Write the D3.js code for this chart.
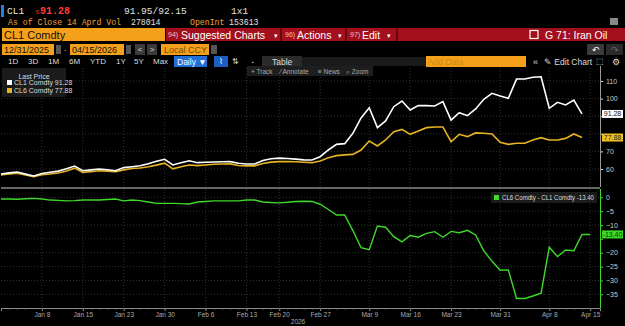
<!DOCTYPE html>
<html><head><meta charset="utf-8">
<script src="https://cdn.jsdelivr.net/npm/d3@7"></script>
<style>
html,body{margin:0;padding:0;background:#000;overflow:hidden}
svg{display:block}
</style></head><body>
<svg id="c" width="625" height="326"></svg>
<script>
// ---------------- DATA ----------------
const dates = ["Dec 31","Jan 2","Jan 5","Jan 6","Jan 7","Jan 8","Jan 9","Jan 12","Jan 13","Jan 14","Jan 15","Jan 16",
"Jan 20","Jan 21","Jan 22","Jan 23","Jan 26","Jan 27","Jan 28","Jan 29","Jan 30","Feb 2","Feb 3","Feb 4","Feb 5","Feb 6",
"Feb 9","Feb 10","Feb 11","Feb 12","Feb 13","Feb 17","Feb 18","Feb 19","Feb 20","Feb 23","Feb 24","Feb 25","Feb 26","Feb 27",
"Mar 2","Mar 3","Mar 4","Mar 5","Mar 6","Mar 9","Mar 10","Mar 11","Mar 12","Mar 13","Mar 16","Mar 17","Mar 18","Mar 19","Mar 20",
"Mar 23","Mar 24","Mar 25","Mar 26","Mar 27","Mar 30","Mar 31","Apr 1","Apr 2","Apr 3","Apr 6","Apr 7","Apr 8","Apr 9","Apr 10",
"Apr 13","Apr 14","Apr 15"];
const cl1 = [57.2,57.8,58.3,57.1,56.0,57.4,58.2,58.8,60.2,61.7,59.0,59.5,60.0,59.6,59.0,60.8,61.3,61.8,63.0,64.4,65.5,
62.3,63.6,64.7,63.6,63.8,64.0,64.1,64.2,63.3,62.8,62.8,64.8,65.8,66.2,66.0,65.6,65.2,65.1,67.0,70.8,74.0,74.4,80.3,89.0,
94.8,83.5,87.3,95.4,98.6,93.5,96.0,96.0,95.8,98.3,87.8,92.0,90.3,94.1,99.6,103.0,101.5,100.2,111.1,111.1,112.1,112.4,
94.5,97.9,96.4,99.2,91.28];
const cl6 = [56.6,57.2,57.6,56.6,55.6,56.8,57.2,57.7,58.9,60.5,58.0,58.5,59.0,58.8,58.4,59.5,60.3,60.6,61.3,62.2,63.3,
60.1,61.3,62.3,61.9,62.3,62.7,62.8,62.9,62.0,61.8,61.8,63.1,63.9,64.2,64.2,64.1,63.8,63.6,64.5,66.4,67.6,68.0,68.3,70.8,
75.9,73.1,76.5,81.2,82.5,79.7,81.6,83.5,83.9,83.9,75.5,79.7,78.4,80.5,80.3,79.9,75.2,74.0,74.6,74.6,76.5,77.8,
76.5,76.5,77.4,79.9,77.88];
const spread = [-0.6,-0.6,-0.7,-0.5,-0.4,-0.6,-1.0,-1.1,-1.3,-1.2,-1.0,-1.0,-1.0,-0.8,-0.6,-1.3,-1.0,-1.2,-1.7,-2.2,-2.2,
-2.2,-2.3,-2.4,-1.7,-1.5,-1.3,-1.3,-1.3,-1.3,-1.0,-1.0,-1.7,-1.9,-2.0,-1.8,-1.5,-1.4,-1.5,-2.5,-4.4,-6.4,-6.4,-12.0,-18.2,
-18.9,-10.4,-10.8,-14.2,-16.1,-13.8,-14.4,-13.0,-12.4,-14.4,-12.3,-12.8,-11.9,-13.6,-19.3,-23.1,-26.3,-26.2,-36.5,-36.5,
-35.6,-34.6,-18.0,-21.4,-19.0,-19.3,-13.4,-13.4];
const tickLabels = ["Jan 8","Jan 15","Jan 23","Jan 30","Feb 6","Feb 13","Feb 20","Feb 27","Mar 9","Mar 16","Mar 23","Mar 31","Apr 8","Apr 15"];
const upperTicks = [60,70,80,90,100,110];
const lowerTicks = [0,-5,-10,-15,-20,-25,-30,-35];
const seriesNames = ["CL1 Comdty","CL6 Comdty","CL6 Comdty - CL1 Comdty"];
const lastVals = ["91.28","77.88","-13.40"];

// ---------------- STYLE ----------------
const ORANGE="#f5a01a", RED="#a30f1c", WHITE="#ffffff", GOLD="#e6b422", GREEN="#3fd92b", GRID="#3c3c3c";
const SANS="'Liberation Sans', Arial, sans-serif", MONO="'Liberation Mono','DejaVu Sans Mono',monospace";
const svg = d3.select("#c");
svg.append("rect").attr("width",625).attr("height",326).attr("fill","#000");

function txt(x,y,s,o={}){
  return svg.append("text").attr("x",x).attr("y",y).text(s)
    .attr("font-family",o.f||SANS).attr("font-size",o.s||9).attr("fill",o.c||"#ddd")
    .attr("font-weight",o.w||"normal").attr("text-anchor",o.a||"start").attr("dominant-baseline","central");
}
function box(x,y,w,h,c){ return svg.append("rect").attr("x",x).attr("y",y).attr("width",w).attr("height",h).attr("fill",c); }

// ---------------- HEADER ----------------
box(1,5,3,12,"#2a7de1");
txt(7,11.5,"CL1",{f:MONO,s:9.5,c:"#e8e8e8"});
txt(35,11.5,"s",{f:MONO,s:8,c:"#e03030"});
txt(40,11.5,"91.28",{f:MONO,s:10,c:"#ff3b3b",w:"bold"});
txt(124,11.5,"91.95/92.15",{f:MONO,s:9.5,c:"#e0e0e0"});
txt(231,11.5,"1x1",{f:MONO,s:9.5,c:"#e0e0e0"});
txt(8,22.5,"As of Close 14 Aprd Vol",{f:MONO,s:8.2,c:"#f0a030"});
txt(131,22.5,"278014",{f:MONO,s:8.2,c:"#e0e0e0"});
txt(190,22.5,"OpenInt",{f:MONO,s:8.2,c:"#f0a030"});
txt(229,22.5,"153613",{f:MONO,s:8.2,c:"#e0e0e0"});
box(610,18,8,7,"#888");
// row 3
box(2,28,163,13,ORANGE);
txt(4,34.8,"CL1 Comdty",{s:11,c:"#111"});
box(166,28,459,13,RED);
box(280,28,2,13,"#6a0810"); box(345,28,2,13,"#6a0810"); box(396,28,2,13,"#6a0810");
txt(168,34.8,"94)",{s:7,c:"#f3c0c0"});
txt(181,34.8,"Suggested Charts",{s:10.5,c:"#fff"});
txt(274,35,"▾",{s:7,c:"#fff"});
txt(285,34.8,"96)",{s:7,c:"#f3c0c0"});
txt(297,34.8,"Actions",{s:10.5,c:"#fff"});
txt(338,35,"▾",{s:7,c:"#fff"});
txt(350,34.8,"97)",{s:7,c:"#f3c0c0"});
txt(362,34.8,"Edit",{s:10.5,c:"#fff"});
txt(387,35,"▾",{s:7,c:"#fff"});
svg.append("rect").attr("x",530).attr("y",30.5).attr("width",8).attr("height",8).attr("fill","none").attr("stroke","#fff").attr("stroke-width",1.2);
txt(545,34.8,"G 71: Iran Oil",{s:10.5,c:"#fff"});
// row 4
box(2,44,52,11,ORANGE); txt(4,49.8,"12/31/2025",{s:9,c:"#111"});
box(56,45,5,9,"#555");
txt(64,49.8,"-",{s:8,c:"#aaa"});
box(70,44,54,11,ORANGE); txt(72,49.8,"04/15/2026",{s:9,c:"#111"});
box(126,45,5,9,"#555");
box(135,44,10,11,"#3a3a3a"); txt(140,49.8,"<",{s:8,c:"#ddd",a:"middle"});
box(147,44,10,11,"#3a3a3a"); txt(152,49.8,">",{s:8,c:"#ddd",a:"middle"});
box(161,44,48,11,ORANGE); txt(164,49.8,"Local CCY",{s:9,c:"#7a4a00"});
box(211,45,6,9,"#555");
box(587,44,17,11,"#3a3a3a"); txt(595.5,49.8,"↶",{s:9,c:"#fff",a:"middle"});
box(606,44,17,11,"#2a2a2a"); txt(614.5,49.8,"↷",{s:9,c:"#666",a:"middle"});
// row 5
[["1D",8],["3D",28],["1M",48],["6M",69],["YTD",90],["1Y",116],["5Y",134],["Max",153]].forEach(d=>txt(d[1],61.5,d[0],{s:8,c:"#ddd"}));
box(174,56,33,11,"#1f6fd6"); txt(177,61.5,"Daily ▼",{s:8.5,c:"#fff"});
box(214,56,14,11,"#1c5fc0"); txt(221,61.5,"⌇",{s:8,c:"#fff",a:"middle"});
txt(235,61.5,"⇅",{s:8,c:"#ccc",a:"middle"});
txt(253,61.5,"▪",{s:5,c:"#ccc",a:"middle"});
box(262,56,40,11,"#2b2b2b"); txt(272,61.5,"Table",{s:8.5,c:"#ddd"});
box(302,57,124,9,"#1a1a1a");
box(426,56,100,11,ORANGE); txt(428,61.5,"Add Data",{s:8.5,c:"#d08a10"});
txt(533,61.5,"«",{s:9,c:"#ddd"});
txt(544,61.5,"✎ Edit Chart",{s:8.5,c:"#ddd"});
txt(600,61.5,"⬚",{s:8,c:"#ddd",a:"middle"});
txt(616,61.5,"⚙",{s:9,c:"#ddd",a:"middle"});

// ---------------- SCALES ----------------
const x = d3.scaleLinear().domain([0,73.2]).range([1,600]);
const yU = d3.scaleLinear().domain([60,110]).range([169,81]);
const yL = d3.scaleLinear().domain([0,-35]).range([197.3,294.3]);
const U = {top:68,bot:187}, L = {top:189,bot:308};
const tickIdx = tickLabels.map(l=>dates.indexOf(l));

const defs = svg.append("defs");
defs.append("clipPath").attr("id","cu").append("rect").attr("x",0).attr("y",U.top).attr("width",600).attr("height",U.bot-U.top);
defs.append("clipPath").attr("id","cl").append("rect").attr("x",0).attr("y",L.top).attr("width",600).attr("height",L.bot-L.top);

// grid
const g = svg.append("g").attr("stroke",GRID).attr("stroke-width",0.8).attr("stroke-dasharray","1,2");
tickIdx.forEach(i=>{
  g.append("line").attr("x1",x(i)).attr("x2",x(i)).attr("y1",U.top).attr("y2",U.bot);
  g.append("line").attr("x1",x(i)).attr("x2",x(i)).attr("y1",L.top).attr("y2",L.bot);
});
upperTicks.forEach(v=>g.append("line").attr("x1",1).attr("x2",600).attr("y1",yU(v)).attr("y2",yU(v)));
lowerTicks.forEach(v=>g.append("line").attr("x1",1).attr("x2",600).attr("y1",yL(v)).attr("y2",yL(v)));

// separator
svg.append("line").attr("x1",1).attr("x2",600).attr("y1",188).attr("y2",188).attr("stroke","#8a8a8a").attr("stroke-width",1.6);

// lines
const lineU = d3.line().x((d,i)=>x(i)).y(d=>yU(d));
const lineL = d3.line().x((d,i)=>x(i)).y(d=>yL(d));
svg.append("path").datum(cl6).attr("d",lineU).attr("fill","none").attr("stroke",GOLD).attr("stroke-width",1.6).attr("clip-path","url(#cu)");
svg.append("path").datum(cl1).attr("d",lineU).attr("fill","none").attr("stroke",WHITE).attr("stroke-width",1.6).attr("clip-path","url(#cu)");
svg.append("path").datum(spread).attr("d",lineL).attr("fill","none").attr("stroke",GREEN).attr("stroke-width",1.4).attr("clip-path","url(#cl)");

// tag positions (labels under them are hidden as in the reference)
const tagU1 = yU(cl1[cl1.length-1]), tagU2 = yU(cl6[cl6.length-1]), tagL = yL(spread[spread.length-1]);
const hidden = (y)=> [tagU1,tagU2,tagL].some(t=>Math.abs(t-y)<8);

// right axes
const axU = svg.append("g").attr("transform","translate(600,0)")
  .call(d3.axisRight(yU).tickValues(upperTicks).tickSize(3).tickPadding(3));
axU.select(".domain").remove();
axU.selectAll("line").attr("stroke","#ddd");
axU.selectAll("text").attr("fill","#ccc").attr("font-size",7).attr("font-family",SANS)
  .style("display",d=>hidden(yU(d))?"none":null);
svg.append("line").attr("x1",600.5).attr("x2",600.5).attr("y1",U.top-2).attr("y2",U.bot).attr("stroke","#9a9a9a").attr("stroke-width",1);

const axL = svg.append("g").attr("transform","translate(600,0)")
  .call(d3.axisRight(yL).tickValues(lowerTicks).tickSize(3).tickPadding(3));
axL.select(".domain").remove();
axL.selectAll("line").attr("stroke",GREEN);
axL.selectAll("text").attr("fill","#ccc").attr("font-size",7).attr("font-family",SANS)
  .style("display",d=>hidden(yL(d))?"none":null);
svg.append("line").attr("x1",600.5).attr("x2",600.5).attr("y1",L.top).attr("y2",L.bot).attr("stroke",GREEN).attr("stroke-width",1);

// bottom axis
const axB = svg.append("g").attr("transform",`translate(0,${L.bot})`)
  .call(d3.axisBottom(x).tickValues(tickIdx).tickFormat((d,k)=>tickLabels[k]).tickSize(3).tickPadding(1));
axB.select(".domain").attr("stroke","#8a8a8a");
axB.selectAll("line").attr("stroke","#8a8a8a");
axB.selectAll("text").attr("fill","#aaa").attr("font-size",6.5).attr("font-family",SANS);
const axM = svg.append("g").attr("transform",`translate(0,${L.bot})`)
  .call(d3.axisBottom(x).tickValues(d3.range(dates.length)).tickFormat("").tickSize(1.5));
axM.select(".domain").remove();
axM.selectAll("line").attr("stroke","#777");
txt(298,321,"2026",{s:6.5,c:"#aaa",a:"middle"});

// last value tags
function tag(yv,label,bg,fg){
  box(602,yv-4,21,8,bg);
  txt(612.5,yv,label,{s:7,c:fg,a:"middle"});
}
tag(tagU1,lastVals[0],"#fff","#111");
tag(tagU2,lastVals[1],"#f0c020","#222");
tag(tagL,lastVals[2],GREEN,"#0a3a05");

// legends
box(2,68,64,29,"#1b1b1b");
txt(34,76,"Last Price",{s:7,c:"#ddd",a:"middle"});
box(7,80,5,5,WHITE); txt(14,82.8,seriesNames[0]+" "+lastVals[0],{s:7,c:"#ddd"});
box(7,88,5,5,GOLD); txt(14,90.8,seriesNames[1]+" "+lastVals[1],{s:7,c:"#ddd"});

box(491,192,106,11,"#1b1b1b");
box(494,195,5,5,GREEN);
txt(502,197.6,seriesNames[2]+" "+lastVals[2],{s:6.8,c:"#ddd"})
  .attr("textLength",92).attr("lengthAdjust","spacingAndGlyphs");

// track/annotate overlay
box(247,66,126,10,"#1e1e1e");
txt(251,71,"+ Track",{s:6.5,c:"#aaa"});
txt(280,71,"⁄ Annotate",{s:6.5,c:"#aaa"});
txt(318,71,"≡ News",{s:6.5,c:"#aaa"});
txt(346,71,"⌕ Zoom",{s:6.5,c:"#aaa"});
</script>
</body></html>
